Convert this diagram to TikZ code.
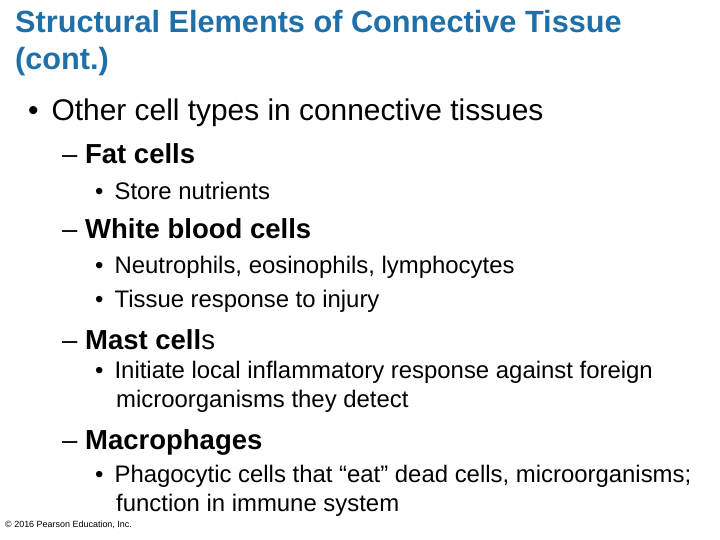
\documentclass[tikz,border=0pt]{standalone}
\usepackage{fontspec}
\setmainfont{Liberation Sans}
\usetikzlibrary{positioning}
\definecolor{titleblue}{HTML}{1F6FA8}
\tikzset{
  title/.style={anchor=west,inner sep=0pt,text=titleblue,font=\fontsize{30.8}{36}\selectfont\bfseries},
  lvlone/.style={anchor=west,inner sep=0pt,font=\fontsize{30}{36}\selectfont},
  lvltwo/.style={anchor=west,inner sep=0pt,font=\fontsize{27.6}{33}\selectfont},
  lvlthree/.style={anchor=west,inner sep=0pt,align=left,font=\fontsize{24}{29}\selectfont},
}
\begin{document}
\begin{tikzpicture}[x=1bp,y=-1bp]
    \useasboundingbox (0,0) rectangle (720,540);
    \node[title] (t1) at (15,22) {Structural Elements of Connective Tissue};
    \node[title] (t2) at (15,62) {(cont.)};

    \node[lvlone] (b0) at (28,113) {\textbullet\hspace{13bp}Other cell types in connective tissues};

    \node[lvltwo] (fat) at (62,154) {\textendash\ \textbf{Fat cells}};
    \node[lvlthree] (fat1) at (95,191) {\textbullet\hspace{11bp}Store nutrients};

    \node[lvltwo] (wbc) at (62,229) {\textendash\ \textbf{White blood cells}};
    \node[lvlthree] (wbc1) at (95,267) {\textbullet\hspace{11bp}Neutrophils, eosinophils, lymphocytes};
    \node[lvlthree] (wbc2) at (95,301) {\textbullet\hspace{11bp}Tissue response to injury};

    \node[lvltwo] (mast) at (62,340) {\textendash\ \textbf{Mast cell}s};
    \node[lvlthree,anchor=north west] (mast1) at (95,361) {\textbullet\hspace{11bp}Initiate local inflammatory response against foreign\\\hspace{21bp}microorganisms they detect};

    \node[lvltwo] (mac) at (62,442) {\textendash\ \textbf{Macrophages}};
    \node[lvlthree,anchor=north west] (mac1) at (95,465) {\textbullet\hspace{11bp}Phagocytic cells that \textquotedblleft eat\textquotedblright\ dead cells, microorganisms;\\\hspace{21bp}function in immune system};

    \node[anchor=west,inner sep=0pt,font=\fontsize{9}{11}\selectfont] (copy) at (5,525) {\textcopyright\ 2016 Pearson Education, Inc.};
\end{tikzpicture}
\end{document}
